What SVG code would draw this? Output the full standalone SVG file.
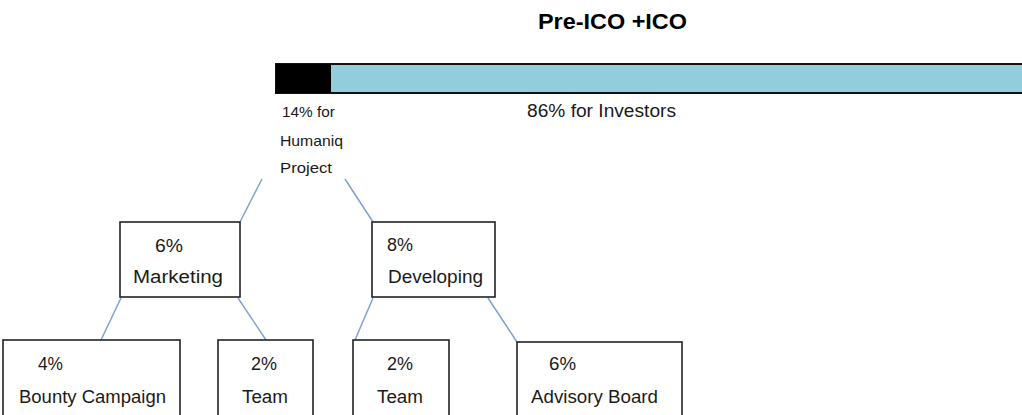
<svg xmlns="http://www.w3.org/2000/svg" width="1022" height="415" viewBox="0 0 1022 415">
<style>
.box{fill:#fff;stroke:#222;stroke-width:1.6}
.conn{stroke:#7ea1cf;stroke-width:1.5;fill:none}
.t{font-family:"Liberation Sans",Arial,sans-serif;font-size:17.5px;fill:#1a1a1a}
.s{font-family:"Liberation Sans",Arial,sans-serif;font-size:14.5px;fill:#1a1a1a}
.title{font-family:"Liberation Sans",Arial,sans-serif;font-size:22px;font-weight:bold;fill:#000}
</style>
<rect width="1022" height="415" fill="#fff"/>
<text class="title" x="538" y="29" textLength="149" lengthAdjust="spacingAndGlyphs">Pre-ICO +ICO</text>
<g id="bar">
<rect x="276" y="64" width="760" height="29" fill="#92cddc" stroke="#111" stroke-width="2"/>
<rect x="276" y="64" width="55" height="29" fill="#000"/>
<text class="t" x="527" y="117" textLength="149" lengthAdjust="spacingAndGlyphs">86% for Investors</text>
</g>
<g id="humaniq">
<text class="s" x="282" y="117" textLength="53" lengthAdjust="spacingAndGlyphs">14% for</text>
<text class="s" x="280" y="146" textLength="63" lengthAdjust="spacingAndGlyphs">Humaniq</text>
<text class="s" x="280" y="173" textLength="52" lengthAdjust="spacingAndGlyphs">Project</text>
</g>
<g id="connectors">
<line class="conn" x1="262" y1="179" x2="240" y2="222"/>
<line class="conn" x1="345" y1="179" x2="373" y2="222"/>
<line class="conn" x1="121" y1="298" x2="101" y2="340"/>
<line class="conn" x1="238" y1="298" x2="266" y2="340"/>
<line class="conn" x1="373" y1="298" x2="355" y2="340"/>
<line class="conn" x1="488" y1="298" x2="517" y2="342"/>
</g>
<g id="marketing">
<rect class="box" x="120" y="222" width="120" height="75"/>
<text class="t" x="155" y="252" textLength="28" lengthAdjust="spacingAndGlyphs">6%</text>
<text class="t" x="133" y="283" textLength="90" lengthAdjust="spacingAndGlyphs">Marketing</text>
</g>
<g id="developing">
<rect class="box" x="372" y="222" width="123" height="75"/>
<text class="t" x="387" y="251" textLength="26" lengthAdjust="spacingAndGlyphs">8%</text>
<text class="t" x="388" y="283" textLength="95" lengthAdjust="spacingAndGlyphs">Developing</text>
</g>
<g id="bounty">
<rect class="box" x="3" y="340" width="177" height="90"/>
<text class="t" x="38" y="370" textLength="25" lengthAdjust="spacingAndGlyphs">4%</text>
<text class="t" x="19" y="403" textLength="147" lengthAdjust="spacingAndGlyphs">Bounty Campaign</text>
</g>
<g id="team1">
<rect class="box" x="218" y="340" width="95" height="90"/>
<text class="t" x="251" y="370" textLength="26" lengthAdjust="spacingAndGlyphs">2%</text>
<text class="t" x="242" y="403" textLength="46" lengthAdjust="spacingAndGlyphs">Team</text>
</g>
<g id="team2">
<rect class="box" x="353" y="340" width="96" height="90"/>
<text class="t" x="387" y="370" textLength="26" lengthAdjust="spacingAndGlyphs">2%</text>
<text class="t" x="377" y="403" textLength="46" lengthAdjust="spacingAndGlyphs">Team</text>
</g>
<g id="advisory">
<rect class="box" x="517" y="342" width="165" height="90"/>
<text class="t" x="549" y="370" textLength="27" lengthAdjust="spacingAndGlyphs">6%</text>
<text class="t" x="531" y="403" textLength="127" lengthAdjust="spacingAndGlyphs">Advisory Board</text>
</g>
</svg>
